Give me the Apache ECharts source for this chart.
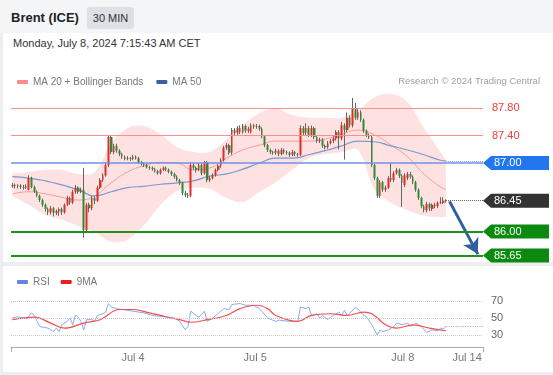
<!DOCTYPE html>
<html><head><meta charset="utf-8">
<script src="https://cdn.jsdelivr.net/npm/echarts@6/dist/echarts.min.js"></script>
<style>
html,body{margin:0;padding:0;width:553px;height:375px;overflow:hidden;background:#eceef1;font-family:"Liberation Sans",Arial,sans-serif;}
#hdr{position:absolute;left:0;top:0;width:553px;height:33px;background:#f4f5f7;}
#title{position:absolute;left:11px;top:10px;font-size:13px;font-weight:bold;color:#222;}
#badge{position:absolute;left:87px;top:7px;width:47px;height:22px;background:#dde0e5;border-radius:3px;font-size:11px;color:#333;text-align:center;line-height:22px;}
#p1{position:absolute;left:3px;top:33px;width:550px;height:229px;background:#fff;}
#p2{position:absolute;left:3px;top:266px;width:550px;height:106px;background:#fff;}
#date{position:absolute;left:13px;top:37px;font-size:11px;color:#333;}
#chart{position:absolute;left:0;top:0;width:553px;height:375px;}
</style></head>
<body>
<div id="hdr"><div id="title">Brent (ICE)</div><div id="badge">30 MIN</div></div>
<div id="p1"></div><div id="p2"></div>
<div id="date">Monday, July 8, 2024 7:15:43 AM CET</div>
<div id="chart"></div>
<script>
// ---- data ----
const slotCount = 172;
// candles: [open, close, low, high]
const ohlc = [
[86.66,86.68,86.64,86.71],[86.68,86.66,86.63,86.70],[86.66,86.67,86.63,86.69],[86.67,86.65,86.62,86.69],
[86.65,86.64,86.61,86.68],[86.64,86.66,86.62,86.69],[86.61,86.78,86.60,86.82],[86.78,86.65,86.63,86.80],
[86.65,86.58,86.56,86.67],[86.58,86.52,86.50,86.60],[86.52,86.46,86.43,86.54],[86.46,86.39,86.36,86.48],
[86.39,86.33,86.29,86.41],[86.33,86.28,86.24,86.35],[86.28,86.34,86.25,86.37],[86.34,86.27,86.22,86.36],
[86.27,86.30,86.24,86.32],[86.29,86.33,86.23,86.35],[86.33,86.28,86.24,86.35],[86.28,86.39,86.26,86.41],
[86.39,86.49,86.37,86.52],[86.49,86.42,86.39,86.51],[86.42,86.58,86.40,86.61],[86.58,86.64,86.55,86.68],
[86.64,86.58,86.55,86.66],[86.58,86.61,86.56,86.64],[86.61,86.02,85.91,86.93],[86.02,86.39,86.00,86.42],
[86.39,86.34,86.28,86.42],[86.34,86.49,86.31,86.52],[86.49,86.45,86.40,86.51],[86.45,86.64,86.43,86.67],
[86.64,86.75,86.62,86.78],[86.75,86.82,86.72,86.85],[86.82,86.97,86.80,87.00],[86.97,87.38,86.94,87.40],
[87.38,87.16,87.13,87.40],[87.16,87.25,87.13,87.28],[87.25,87.18,87.15,87.28],[87.18,87.13,87.10,87.20],
[87.13,87.09,87.06,87.15],[87.09,87.06,87.04,87.11],[87.06,87.07,87.04,87.10],[87.07,87.06,87.03,87.09],
[87.06,87.09,87.04,87.12],[87.09,87.07,87.05,87.11],[87.07,87.01,86.99,87.09],[87.01,86.99,86.96,87.03],
[86.99,86.97,86.94,87.01],[86.97,86.94,86.92,86.99],[86.94,86.93,86.90,86.96],[86.93,86.91,86.89,86.95],
[86.91,86.88,86.86,86.93],[86.88,86.85,86.83,86.90],[86.85,86.90,86.83,86.92],[86.90,86.93,86.88,86.95],
[86.93,86.90,86.88,86.95],[86.90,86.87,86.85,86.92],[86.87,86.84,86.81,86.89],[86.84,86.80,86.77,86.86],
[86.80,86.75,86.73,86.82],[86.75,86.71,86.68,86.77],[86.71,86.56,86.53,86.73],[86.56,86.53,86.50,86.59],
[86.53,86.52,86.49,86.56],[86.52,86.97,86.50,87.00],[86.97,86.93,86.90,87.00],[86.93,86.90,86.86,86.95],
[86.90,86.97,86.88,87.00],[86.97,86.85,86.82,86.99],[86.85,87.01,86.83,87.03],[87.01,86.75,86.72,87.03],
[86.75,86.78,86.72,86.81],[86.78,86.82,86.76,86.85],[86.82,86.90,86.80,86.92],[86.90,86.96,86.88,86.98],
[86.96,87.04,86.93,87.07],[87.04,87.22,87.02,87.25],[87.22,87.26,87.19,87.29],[87.26,87.15,87.12,87.28],
[87.15,87.48,87.12,87.51],[87.48,87.44,87.41,87.51],[87.44,87.51,87.41,87.54],[87.51,87.45,87.42,87.55],
[87.45,87.54,87.43,87.57],[87.54,87.47,87.44,87.56],[87.47,87.50,87.44,87.53],[87.45,87.55,87.43,87.58],
[87.55,87.53,87.50,87.57],[87.53,87.54,87.50,87.57],[87.54,87.50,87.47,87.56],[87.50,87.39,87.36,87.52],
[87.39,87.26,87.23,87.41],[87.26,87.19,87.16,87.28],[87.19,87.16,87.13,87.21],[87.16,87.15,87.12,87.18],
[87.15,87.18,87.12,87.21],[87.18,87.13,87.10,87.20],[87.13,87.19,87.11,87.22],[87.19,87.16,87.13,87.21],
[87.16,87.15,87.12,87.18],[87.15,87.12,87.09,87.17],[87.12,87.16,87.10,87.19],[87.16,87.13,87.10,87.18],
[87.13,87.12,87.09,87.15],[87.12,87.51,87.10,87.55],[87.51,87.44,87.41,87.54],[87.44,87.51,87.41,87.58],
[87.51,87.41,87.38,87.54],[87.41,87.51,87.38,87.55],[87.51,87.38,87.35,87.53],[87.38,87.32,87.29,87.40],
[87.32,87.34,87.29,87.37],[87.34,87.25,87.22,87.36],[87.25,87.23,87.20,87.27],[87.23,87.29,87.21,87.32],
[87.29,87.32,87.27,87.35],[87.32,87.36,87.29,87.39],[87.36,87.45,87.33,87.48],[87.45,87.36,87.20,87.48],
[87.36,87.55,87.33,87.60],[87.55,87.48,87.05,87.58],[87.48,87.66,87.45,87.74],[87.66,87.55,87.52,87.70],
[87.55,87.80,87.52,87.95],[87.80,87.66,87.63,87.88],[87.66,87.74,87.63,87.80],[87.74,87.63,87.60,87.77],
[87.63,87.47,87.44,87.65],[87.47,87.41,87.38,87.49],[87.41,87.38,87.35,87.43],[87.38,86.97,86.94,87.40],
[86.97,86.78,86.75,86.99],[86.78,86.52,86.49,86.80],[86.52,86.72,86.49,86.75],[86.72,86.61,86.58,86.74],
[86.61,86.64,86.58,86.67],[86.64,86.78,86.62,86.81],[86.78,86.75,86.72,87.00],[86.75,86.85,86.72,86.88],
[86.85,86.90,86.83,86.93],[86.90,86.81,86.78,86.92],[86.81,86.71,86.36,86.84],[86.68,86.82,86.65,86.85],
[86.78,86.84,86.75,86.87],[86.84,86.80,86.77,86.87],[86.80,86.72,86.69,86.82],[86.72,86.61,86.58,86.74],
[86.61,86.49,86.46,86.63],[86.49,86.37,86.34,86.51],[86.37,86.31,86.28,86.39],[86.31,86.40,86.28,86.43],
[86.40,86.34,86.30,86.42],[86.33,86.39,86.30,86.41],[86.39,86.37,86.34,86.42],[86.37,86.42,86.34,86.44],
[86.42,86.43,86.40,86.50],[86.42,86.45,86.40,86.50],[86.44,86.45,86.42,86.47]
];
// indicator sample positions (candle index) and values
const indIdx  = [0,6,12,18,24,30,36,42,48,54,60,66,72,78,84,90,96,102,108,114,120,126,132,138,144,150,156,158];
const ma50    = [86.80,86.78,86.74,86.68,86.61,86.52,86.58,86.64,86.66,86.69,86.71,86.74,86.81,86.84,86.91,87.00,87.07,87.07,87.12,87.18,87.25,87.32,87.31,87.25,87.19,87.12,87.04,87.03];
const ma20    = [86.55,86.58,86.55,86.50,86.46,86.52,86.71,86.87,86.96,87.01,87.00,86.90,86.93,87.07,87.19,87.26,87.32,87.32,87.32,87.35,87.42,87.48,87.41,87.26,87.09,86.84,86.65,86.61];
const bbUpper = [86.85,86.87,86.90,86.90,86.84,86.87,87.29,87.51,87.54,87.42,87.23,87.16,87.16,87.34,87.55,87.73,87.80,87.70,87.66,87.66,87.66,87.77,87.96,88.01,87.89,87.51,87.16,87.04];
const bbLower = [86.52,86.39,86.24,86.17,86.08,85.99,85.85,85.88,86.09,86.39,86.59,86.64,86.62,86.49,86.43,86.58,86.72,86.90,87.07,87.13,87.16,87.19,86.61,86.42,86.31,86.23,86.21,86.21];
// RSI [candle index, value]
const rsi = [[0,50],[2,51.5],[4,50],[5,49],[7,56],[8,53],[9,46],[10,40],[13,38],[15,34],[16,38],[17,34],[18,42],[20,46],[21,50],[22,42],[23,53.5],[24,51],[25,46],[26,36],[27,48],[29,48],[30,46],[31,53],[33,55],[34,57],[35,67],[36,63],[38,61],[40,60],[44,58],[48,56],[51,53],[55,51.5],[59,50],[61,46],[63,36],[64,40],[65,58],[67,53],[68,51],[70,58],[71,46],[73,50],[76,58],[77,61],[79,60],[80,66],[83,67],[85,65],[88,65],[90,61],[93,50],[96,46],[97,47.6],[101,46],[104,46],[105,63],[107,61],[108,63],[109,53],[111,55],[112,50],[113,53],[115,48],[116,51.5],[117,53],[119,57],[120,53],[121,59],[122,53],[124,59],[125,63],[127,57],[128,53],[129,51.5],[131,42],[133,30],[134,36],[135,34],[137,36],[139,40],[140,44],[142,42],[144,44],[145,40],[147,44],[149,40],[151,33],[153,36],[155,35],[156,38],[157,37],[158,40]];
const rsiMA9 = [[0,48],[8,51],[14,44],[19,38],[26,44],[32,48],[39,60],[44,60],[50,56],[56,51.5],[61,48],[65,45],[71,48],[78,53],[83,61],[89,65],[93,61],[96,53],[104,46],[109,53],[116,55],[122,53],[128,57],[131,55],[136,42],[140,38],[146,42],[152,38],[158,35]];
// x tick labels (position in candle index)
const xTickIdx = [44, 88.5, 142.3, 165.7];
const xTickLabels = ['Jul 4', 'Jul 5', 'Jul 8', 'Jul 14'];
// price levels
const levelValues = [87.80, 87.40, 87.00, 86.45, 86.00, 85.65];
const levelKinds  = ['res', 'res', 'pivot', 'last', 'sup', 'sup'];
const lastPrice = 86.45, lastIdx = 158;
const arrowTarget = 85.67;
const rsiLevels = [70, 50, 30];
const rsiLast = 40;

// ---- build ----
const FONT = '"Liberation Sans", Arial, sans-serif';
const slots = Array.from({length: slotCount}, (_, i) => String(i));
const zip = (a, b) => a.map((v, k) => [v, b[k]]);
const bodies = ohlc.map(r => [r[0], r[1], Math.min(r[0], r[1]), Math.max(r[0], r[1])]);
const bandData = indIdx.map((x, k) => [x, bbUpper[k], bbLower[k]]);

const chart = echarts.init(document.getElementById('chart'), null, {renderer: 'canvas'});
const option = {
  animation: false,
  backgroundColor: 'transparent',
  textStyle: {fontFamily: FONT},
  title: {text: 'Research \u00a9 2024 Trading Central', right: 8, top: 71,
    textStyle: {fontSize: 9.5, color: '#a0a0a0', fontWeight: 'normal', fontFamily: FONT}},
  legend: [
    {left: 12, top: 72, itemWidth: 11, itemHeight: 4, itemGap: 13, icon: 'roundRect', selectedMode: false,
     textStyle: {color: '#777', fontSize: 10, fontFamily: FONT},
     data: [{name: 'MA 20 + Bollinger Bands', itemStyle: {color: '#ff8a8a'}}, {name: 'MA 50', itemStyle: {color: '#3c5fa0'}}]},
    {left: 12, top: 272, itemWidth: 11, itemHeight: 4, itemGap: 11, icon: 'roundRect', selectedMode: false,
     textStyle: {color: '#777', fontSize: 10, fontFamily: FONT},
     data: [{name: 'RSI', itemStyle: {color: '#6384e0'}}, {name: '9MA', itemStyle: {color: '#ee1c1c'}}]}
  ],
  grid: [
    {left: 11, right: 70, top: 87.65, height: 171.25},
    {left: 11, right: 70, top: 287.4, height: 59.5}
  ],
  xAxis: [
    {type: 'category', gridIndex: 0, data: slots, boundaryGap: true, show: false},
    {type: 'value', gridIndex: 0, min: -0.5, max: slotCount - 0.5, show: false},
    {type: 'value', gridIndex: 1, min: -0.5, max: slotCount - 0.5,
     axisLine: {show: true, lineStyle: {color: '#aaa', width: 1}},
     axisTick: {show: true, customValues: [-0.5, slotCount - 0.5], length: 5, lineStyle: {color: '#aaa'}},
     axisLabel: {show: true, customValues: xTickIdx, formatter: v => xTickLabels[xTickIdx.indexOf(v)] || '',
       color: '#777', fontSize: 11, margin: 6, fontFamily: FONT},
     splitLine: {show: false}}
  ],
  yAxis: [
    {type: 'value', gridIndex: 0, min: 85.6, max: 88.1, show: false},
    {type: 'value', gridIndex: 1, min: 16, max: 86, show: false}
  ],
  series: [
    {name: 'bbBand', type: 'custom', xAxisIndex: 1, yAxisIndex: 0, data: bandData, silent: true, z: 1,
     encode: {x: 0, y: [1, 2]},
     renderItem: function (params, api) {
       if (params.dataIndex !== 0) return null;
       const up = bandData.map(d => api.coord([d[0], d[1]]));
       const lo = bandData.map(d => api.coord([d[0], d[2]])).reverse();
       // repeat the end points so the band keeps square ends while its edges are smoothed
       const pts = [up[0]].concat(up, [up[up.length - 1]], [lo[0]], lo, [lo[lo.length - 1]]);
       return {type: 'polygon', shape: {points: pts, smooth: 0.35},
               style: {fill: 'rgba(250,110,110,0.2)', stroke: 'none'}};
     }},
    {name: 'MA 20 + Bollinger Bands', type: 'line', xAxisIndex: 1, yAxisIndex: 0, data: zip(indIdx, ma20),
     symbol: 'none', smooth: 0.5, lineStyle: {color: '#f59a9a', width: 1}, itemStyle: {color: '#ff8a8a'}, z: 2},
    {name: 'MA 50', type: 'line', xAxisIndex: 1, yAxisIndex: 0, data: zip(indIdx, ma50),
     symbol: 'none', smooth: 0.5, lineStyle: {color: '#7d98cc', width: 1.2}, itemStyle: {color: '#3c5fa0'}, z: 2,
     markLine: {silent: true, symbol: ['none', 'none'], label: {show: false},
       data: [
         [{coord: [indIdx[indIdx.length - 1], ma50[ma50.length - 1]], lineStyle: {color: '#8fb0ee', type: 'dotted', width: 1}},
          {coord: [slotCount - 0.5, ma50[ma50.length - 1]]}],
         [{coord: [lastIdx, lastPrice], lineStyle: {color: '#666', type: 'dotted', width: 1}},
          {coord: [slotCount - 0.5, lastPrice]}],
         [{coord: [lastIdx + 1.3, lastPrice - 0.01], symbol: 'none', lineStyle: {color: '#2f5f9f', width: 3, type: 'solid'}},
          {coord: [lastIdx + 11.6, arrowTarget], symbol: 'arrow', symbolSize: [13, 15]}]
       ]}},
    {name: 'wicks', type: 'candlestick', xAxisIndex: 0, yAxisIndex: 0, data: ohlc, barWidth: 1, z: 3,
     itemStyle: {color: '#666', color0: '#666', borderColor: '#666', borderColor0: '#666', borderWidth: 1},
     markLine: {silent: true, symbol: ['none', 'none'], label: {show: false},
       data: [
         {yAxis: levelValues[0], lineStyle: {color: '#fb8f8f', width: 1, type: 'solid'}},
         {yAxis: levelValues[1], lineStyle: {color: '#fb8f8f', width: 1, type: 'solid'}},
         {yAxis: levelValues[2], lineStyle: {color: '#6f90e8', width: 1.5, type: 'solid'}},
         {yAxis: levelValues[4], lineStyle: {color: '#1f8f1f', width: 2, type: 'solid'}},
         {yAxis: levelValues[5], lineStyle: {color: '#1f8f1f', width: 2, type: 'solid'}}
       ]}},
    {name: 'bodies', type: 'candlestick', xAxisIndex: 0, yAxisIndex: 0, data: bodies, barWidth: 2.2, z: 4,
     itemStyle: {color: '#e02a24', color0: '#2e8a32', borderColor: '#e02a24', borderColor0: '#2e8a32', borderWidth: 0}},
    {name: 'RSI', type: 'line', xAxisIndex: 2, yAxisIndex: 1, data: rsi, symbol: 'none',
     lineStyle: {color: '#8ea8ee', width: 1}, itemStyle: {color: '#6384e0'}, z: 3,
     markLine: {silent: true, symbol: ['none', 'none'],
       data: rsiLevels.map(v => ({yAxis: v, lineStyle: {color: '#c8c8c8', type: 'dotted', width: 1},
         label: {show: true, position: 'end', formatter: String(v), color: '#666', fontSize: 11, distance: 8, fontFamily: FONT}}))
         .concat([[{coord: [lastIdx, rsiLast], lineStyle: {color: '#9fb4f0', type: 'dotted', width: 1.2}, label: {show: false}},
                   {coord: [slotCount - 0.5, rsiLast]}]])}},
    {name: '9MA', type: 'line', xAxisIndex: 2, yAxisIndex: 1, data: rsiMA9, symbol: 'none', smooth: 0.4,
     lineStyle: {color: '#f25050', width: 1.2}, itemStyle: {color: '#ee1c1c'}, z: 4}
  ]
};
chart.setOption(option);

// price tags on the right, positioned through the y axis scale
const tagColors = {pivot: '#2277f0', last: '#333333', sup: '#0c8a10'};
const gridRight = chart.convertToPixel({xAxisIndex: 1}, slotCount - 0.5);
const els = [];
levelValues.forEach((v, k) => {
  const y = chart.convertToPixel({yAxisIndex: 0}, v);
  const kind = levelKinds[k];
  if (kind === 'res') {
    els.push({type: 'text', x: gridRight + 9, y: y, z: 10,
      style: {text: v.toFixed(2), fill: '#f23b3b', font: '11px ' + FONT, verticalAlign: 'middle', textVerticalAlign: 'middle'}});
  } else {
    const x0 = gridRight;
    els.push({type: 'polygon', z: 10, shape: {points: [[x0, y], [x0 + 8, y - 7], [x0 + 66, y - 7], [x0 + 66, y + 7], [x0 + 8, y + 7]]},
      style: {fill: tagColors[kind]}});
    els.push({type: 'text', x: x0 + 11, y: y, z: 11,
      style: {text: v.toFixed(2), fill: '#fff', font: '11px ' + FONT, verticalAlign: 'middle', textVerticalAlign: 'middle'}});
  }
});
chart.setOption({graphic: els});
</script>
</body></html>
